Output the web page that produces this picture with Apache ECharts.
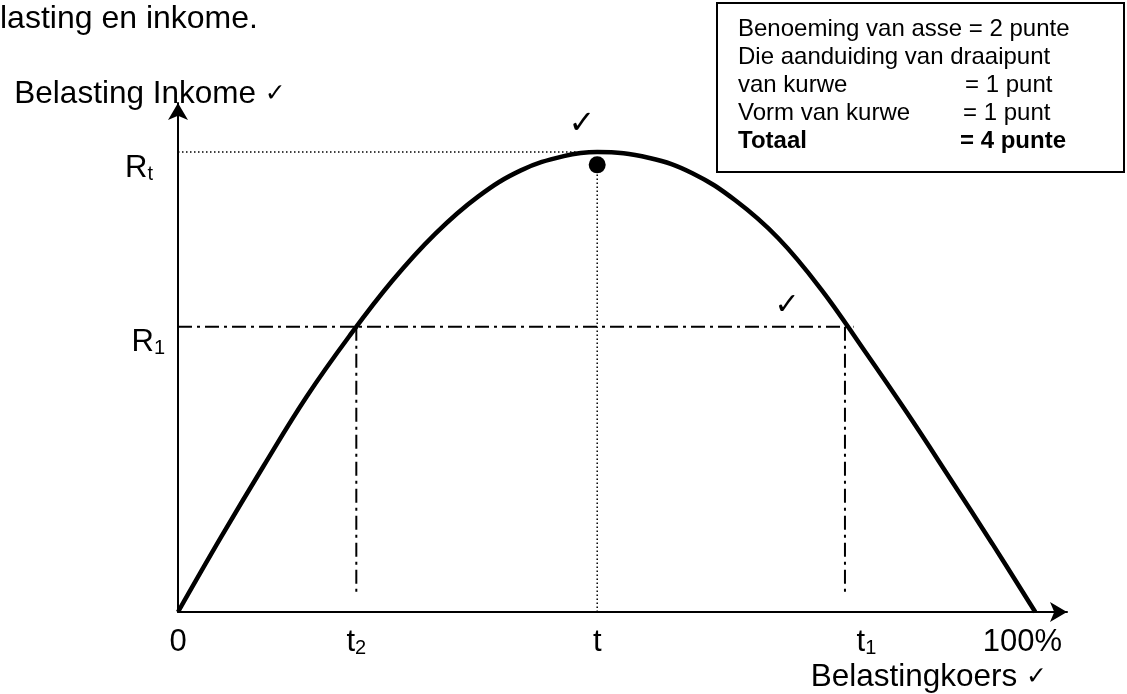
<!DOCTYPE html>
<html>
<head>
<meta charset="utf-8">
<title>Belasting en inkome</title>
<script src="https://cdn.jsdelivr.net/npm/echarts@6/dist/echarts.min.js"></script>
<style>
  html, body { margin: 0; padding: 0; background: #fff; }
  #chart { width: 1127px; height: 694px; }
</style>
</head>
<body>
<div id="chart"></div>
<script>
// Laffer curve: belastingkoers (0..100 %) against belasting inkome (Rt = 100)
const rate = [0, 5, 10, 15, 20, 25, 30, 35, 40, 45, 48.9, 55, 60, 65, 70, 75, 80, 85, 90, 95, 100]
const income = [0, 16.2, 31.8, 46.8, 60.0, 72.0, 82.2, 90.3, 96.0, 99.1, 100, 98.7, 95.4, 89.5, 81.3, 70.2, 57.0, 43.4, 29.2, 14.8, 0]

// guide lines
const rateT = 48.9
const rateT2 = 20.8
const rateT1 = 77.8
const incomeRt = 100
const incomeR1 = 62
const r1LineEnd = 78.8
const turnDot = [rateT, 97.2]

// tick labels: [main, subscript]
const xTickValues = [0, 20.8, 48.9, 80.3, 98.5]
const xTickLabels = [['0', ''], ['t', '2'], ['t', ''], ['t', '1'], ['100%', '']]
const yTickValues = [incomeRt, incomeR1]
const yTickLabels = [['R', 't'], ['R', '1']]

const FONT = '"Liberation Sans", Arial, "DejaVu Sans", sans-serif'
const xMax = 103.7
const yMax = 110.65

const chart = echarts.init(document.getElementById('chart'))

function findLabel(values, labels, v) {
  const i = values.findIndex(x => Math.abs(x - v) < 1e-6)
  return i < 0 ? null : labels[i]
}

function richLabel(values, labels, padSub) {
  return v => {
    const l = findLabel(values, labels, v)
    if (!l) return ''
    if (!l[1]) return '{m|' + l[0] + '}'
    return '{m|' + l[0] + '}{' + (padSub && l[1] === 't' ? 'sp' : 's') + '|' + l[1] + '}'
  }
}

const rich = {
  m: { fontSize: 31, lineHeight: 32, fontFamily: FONT, color: '#000' },
  s: { fontSize: 20, lineHeight: 20, verticalAlign: 'bottom', fontFamily: FONT, color: '#000' },
  sp: { fontSize: 20, lineHeight: 20, verticalAlign: 'bottom', fontFamily: FONT, color: '#000', padding: [0, 12, 0, 0] },
}

const nameRich = {
  a: { fontSize: 31.5, lineHeight: 32, fontFamily: FONT, color: '#000' },
  c: { fontSize: 25, lineHeight: 32, fontFamily: '"DejaVu Sans"', color: '#000' },
}

const dashDot = { color: '#000', width: 2, type: [14, 5, 3, 5] }
const dotted = { color: '#000', width: 1.5, type: [1.5, 2.5] }

function guide(data, style) {
  return {
    type: 'line', data, symbol: 'none', silent: true, z: 1,
    lineStyle: style,
  }
}

const boxLines = [
  'Benoeming van asse = 2 punte',
  'Die aanduiding van draaipunt',
  'van kurwe',
  'Vorm van kurwe',
  'Totaal',
]
const boxScores = ['', '', '= 1 punt', '= 1 punt', '= 4 punte']
const boxScoreX = [0, 0, 965, 963, 960]

const graphics = [
  { type: 'text', style: { text: 'lasting en inkome.', x: 0, y: 19, font: '32px ' + FONT, fill: '#000', verticalAlign: 'middle' } },
  { type: 'rect', shape: { x: 717, y: 3, width: 407, height: 169 }, style: { fill: '#fff', stroke: '#000', lineWidth: 2 } },
  { type: 'text', style: { text: '✓', x: 582, y: 125, font: '32px "DejaVu Sans"', fill: '#000', align: 'center', verticalAlign: 'middle' } },
  { type: 'text', style: { text: '✓', x: 787, y: 306, font: '30px "DejaVu Sans"', fill: '#000', align: 'center', verticalAlign: 'middle' } },
]
boxLines.forEach((t, i) => {
  const bold = i === 4 ? 'bold ' : ''
  graphics.push({ type: 'text', style: { text: t, x: 738, y: 29 + 28 * i, font: bold + '24px ' + FONT, fill: '#000', verticalAlign: 'middle' } })
  if (boxScores[i]) {
    graphics.push({ type: 'text', style: { text: boxScores[i], x: boxScoreX[i], y: 29 + 28 * i, font: bold + '24px ' + FONT, fill: '#000', verticalAlign: 'middle' } })
  }
})

chart.setOption({
  animation: false,
  backgroundColor: '#fff',
  grid: { left: 178, top: 103, width: 889, height: 509, containLabel: false, outerBoundsMode: 'none' },
  xAxis: {
    type: 'value', min: 0, max: xMax,
    name: '{a|Belastingkoers }{c|✓}',
    nameLocation: 'end', nameGap: -20, nameMoveOverlap: false,
    nameTextStyle: { align: 'right', verticalAlign: 'top', padding: [49, 0, 0, 0], rich: nameRich },
    axisLine: { lineStyle: { color: '#000', width: 2 }, symbol: ['none', 'arrow'], symbolSize: [15, 17] },
    axisTick: { show: false },
    splitLine: { show: false },
    axisLabel: { customValues: xTickValues, margin: 14, formatter: richLabel(xTickValues, xTickLabels, false), rich },
  },
  yAxis: {
    type: 'value', min: 0, max: yMax,
    name: '{a|Belasting Inkome }{c|✓}',
    nameLocation: 'end', nameGap: -7, nameMoveOverlap: false,
    nameTextStyle: { padding: [0, 56, 0, 0], rich: nameRich },
    axisLine: { lineStyle: { color: '#000', width: 2 }, symbol: ['none', 'arrow'], symbolSize: [15, 17] },
    axisTick: { show: false },
    splitLine: { show: false },
    axisLabel: { customValues: yTickValues, margin: 13, verticalAlign: 'top', formatter: richLabel(yTickValues, yTickLabels, true), rich },
  },
  graphic: graphics,
  series: [
    guide([[0, incomeRt], [rateT, incomeRt]], dotted),
    guide([[rateT, 0], [rateT, turnDot[1]]], dotted),
    guide([[0, incomeR1], [r1LineEnd, incomeR1]], dashDot),
    guide([[rateT2, incomeR1], [rateT2, 3.3]], dashDot),
    guide([[rateT1, incomeR1], [rateT1, 4.3]], dashDot),
    {
      type: 'line', name: 'Belasting inkome', z: 3,
      data: rate.map((r, i) => [r, income[i]]),
      smooth: 0.4, symbol: 'none',
      lineStyle: { color: '#000', width: 4.5 },
    },
    {
      type: 'scatter', z: 4, data: [turnDot], symbol: 'circle', symbolSize: 17,
      itemStyle: { color: '#000', opacity: 1 },
    },
  ],
})
</script>
</body>
</html>
